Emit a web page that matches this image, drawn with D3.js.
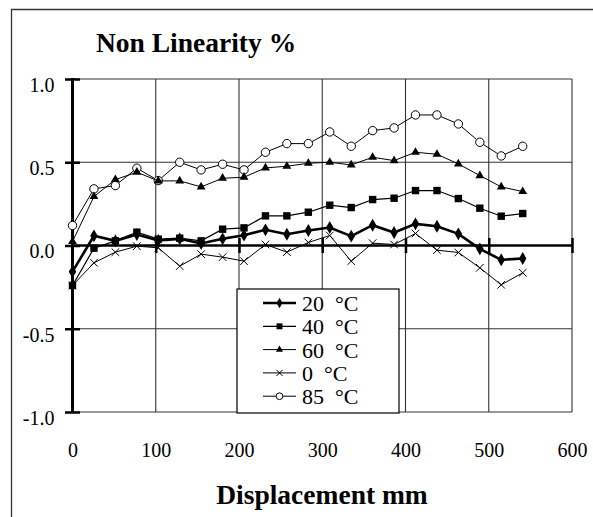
<!DOCTYPE html>
<html><head><meta charset="utf-8">
<script src="https://cdn.jsdelivr.net/npm/d3@7"></script>
<style>body{margin:0;background:#fff}svg{display:block}svg text{font-family:"Liberation Serif","Times New Roman","DejaVu Serif",serif}</style>
</head><body>
<script>
const displacement = [0, 25.8, 51.5, 77.3, 103, 128.8, 154.5, 180.3, 206, 231.8, 257.5, 283.3, 309, 334.8, 360.5, 386.3, 412, 437.8, 463.5, 489.3, 515, 540.8];
const t20 = [-0.157, 0.058, 0.028, 0.066, 0.030, 0.040, 0.012, 0.040, 0.062, 0.094, 0.068, 0.090, 0.108, 0.056, 0.122, 0.078, 0.130, 0.116, 0.070, -0.020, -0.086, -0.078];
const t40 = [-0.240, -0.016, 0.028, 0.080, 0.038, 0.044, 0.028, 0.098, 0.106, 0.178, 0.178, 0.200, 0.242, 0.228, 0.276, 0.284, 0.330, 0.330, 0.282, 0.224, 0.176, 0.192];
const t60 = [0.024, 0.294, 0.396, 0.440, 0.388, 0.388, 0.352, 0.404, 0.410, 0.466, 0.476, 0.494, 0.500, 0.484, 0.530, 0.510, 0.560, 0.548, 0.490, 0.420, 0.352, 0.324];
const t0  = [-0.240, -0.104, -0.040, -0.004, -0.014, -0.124, -0.052, -0.070, -0.094, 0.006, -0.040, 0.018, 0.060, -0.094, 0.014, 0.006, 0.072, -0.028, -0.042, -0.134, -0.236, -0.164];
const t85 = [0.120, 0.340, 0.360, 0.464, 0.390, 0.500, 0.454, 0.488, 0.454, 0.560, 0.612, 0.612, 0.682, 0.596, 0.690, 0.706, 0.784, 0.784, 0.730, 0.620, 0.538, 0.596];
const seriesNames = ["20  °C", "40  °C", "60  °C", "0  °C", "85  °C"];
const xTicks = [0, 100, 200, 300, 400, 500, 600];
const yTicks = [-1.0, -0.5, 0.0, 0.5, 1.0];
const titleText = "Non Linearity %";
const xTitle = "Displacement mm";

const W = 593, H = 517;
const svg = d3.select("body").append("svg").attr("width", W).attr("height", H);

const x = d3.scaleLinear().domain([0, 600]).range([72.5, 572]);
const y = d3.scaleLinear().domain([-1, 1]).range([412, 79]);

// outer frame
svg.append("path").attr("d", `M11.5,517 V9.5 H593`).attr("fill", "none").attr("stroke", "#333").attr("stroke-width", 1.3);

// title
svg.append("text").attr("x", 96).attr("y", 51.5).attr("font-weight", "bold")
  .attr("font-size", 27.5).attr("fill", "#000").text(titleText);

// gridlines
const grid = svg.append("g").attr("stroke", "#333").attr("stroke-width", 1.1);
xTicks.filter(d => d > 0).forEach(d => grid.append("line").attr("x1", x(d)).attr("x2", x(d)).attr("y1", y(1)).attr("y2", y(-1)));
yTicks.filter(d => d !== 0).forEach(d => grid.append("line").attr("x1", x(0)).attr("x2", x(600)).attr("y1", y(d)).attr("y2", y(d)));

// y axis
const yAxis = d3.axisLeft(y).tickValues(yTicks).tickFormat(d3.format(".1f")).tickSize(0).tickPadding(0);
const gy = svg.append("g").attr("transform", `translate(${x(0)},0)`).call(yAxis);
gy.select(".domain").remove();
gy.selectAll("text").attr("font-family", null).attr("font-size", 20).attr("fill", "#000")
  .attr("x", -18).attr("dy", "0.62em").attr("text-anchor", "end").text(d => d3.format(".1f")(d).replace("−", "-"));
gy.selectAll(".tick").append("line").attr("x1", -7.5).attr("x2", 7.5).attr("stroke", "#000").attr("stroke-width", 2.5);
svg.append("line").attr("x1", x(0)).attr("x2", x(0)).attr("y1", y(1) - 1).attr("y2", y(-1) + 1).attr("stroke", "#000").attr("stroke-width", 3);

// x axis at zero
const xAxis = d3.axisBottom(x).tickValues(xTicks).tickSize(0).tickPadding(0);
const gx = svg.append("g").attr("transform", `translate(0,${y(0)})`).call(xAxis);
gx.attr("font-family", null);
gy.attr("font-family", null);
gx.select(".domain").remove();
gx.selectAll("text").attr("font-size", 20).attr("fill", "#000").attr("y", 211).attr("dy", 0);
gx.selectAll(".tick").filter(d => d > 0).append("line").attr("y1", -7.5).attr("y2", 7.5).attr("stroke", "#000").attr("stroke-width", 2.5);
svg.append("line").attr("x1", x(0)).attr("x2", x(600)).attr("y1", y(0)).attr("y2", y(0)).attr("stroke", "#000").attr("stroke-width", 2.5);

// x title
svg.append("text").attr("x", 322).attr("y", 504).attr("text-anchor", "middle")
  .attr("font-weight", "bold").attr("font-size", 27.5).attr("fill", "#000").text(xTitle);

// markers
const crossPath = r => `M${-r},${-r}L${r},${r}M${-r},${r}L${r},${-r}`;
const markers = {
  diamond: (g, s) => g.append("path").attr("d", d3.symbol(d3.symbolDiamond, 48 * s * s)()).attr("fill", "#000"),
  square: (g, s) => g.append("rect").attr("x", -3.7 * s).attr("y", -3.7 * s).attr("width", 7.4 * s).attr("height", 7.4 * s).attr("fill", "#000"),
  triangle: (g, s) => g.append("path").attr("d", d3.symbol(d3.symbolTriangle, 34 * s * s)()).attr("fill", "#000"),
  cross: (g, s) => g.append("path").attr("d", crossPath(3.8 * s)).attr("fill", "none").attr("stroke", "#000").attr("stroke-width", 1),
  circle: (g, s) => g.append("circle").attr("r", 4.2 * s).attr("fill", "#fff").attr("stroke", "#000").attr("stroke-width", 1)
};

const series = [
  {name: seriesNames[4], values: t85, marker: "circle", lw: 1},
  {name: seriesNames[2], values: t60, marker: "triangle", lw: 1},
  {name: seriesNames[1], values: t40, marker: "square", lw: 1.2},
  {name: seriesNames[3], values: t0, marker: "cross", lw: 1},
  {name: seriesNames[0], values: t20, marker: "diamond", lw: 2.6}
];

const line = d3.line().x(d => x(d[0])).y(d => y(d[1]));
series.forEach(s => {
  const pts = displacement.map((d, i) => [d, s.values[i]]);
  svg.append("path").attr("d", line(pts)).attr("fill", "none").attr("stroke", "#000").attr("stroke-width", s.lw);
  pts.forEach(p => {
    const g = svg.append("g").attr("transform", `translate(${x(p[0])},${y(p[1])})`);
    markers[s.marker](g, 1);
  });
});

// legend
const legendOrder = [
  {name: seriesNames[0], marker: "diamond", lw: 2.6},
  {name: seriesNames[1], marker: "square", lw: 1.2},
  {name: seriesNames[2], marker: "triangle", lw: 1},
  {name: seriesNames[3], marker: "cross", lw: 1},
  {name: seriesNames[4], marker: "circle", lw: 1}
];
svg.append("rect").attr("x", 237).attr("y", 289).attr("width", 162).attr("height", 124)
  .attr("fill", "#fff").attr("stroke", "#000").attr("stroke-width", 1.2);
legendOrder.forEach((s, i) => {
  const cy = 303 + i * 23.3;
  svg.append("line").attr("x1", 263).attr("x2", 296).attr("y1", cy).attr("y2", cy).attr("stroke", "#000").attr("stroke-width", s.lw);
  const g = svg.append("g").attr("transform", `translate(279.5,${cy})`);
  markers[s.marker](g, 0.8);
  svg.append("text").attr("x", 302).attr("y", cy + 8).attr("font-size", 22).attr("fill", "#000")
    .text(s.name.replace(/ /g, "\u00a0"));
});
</script>
</body></html>
